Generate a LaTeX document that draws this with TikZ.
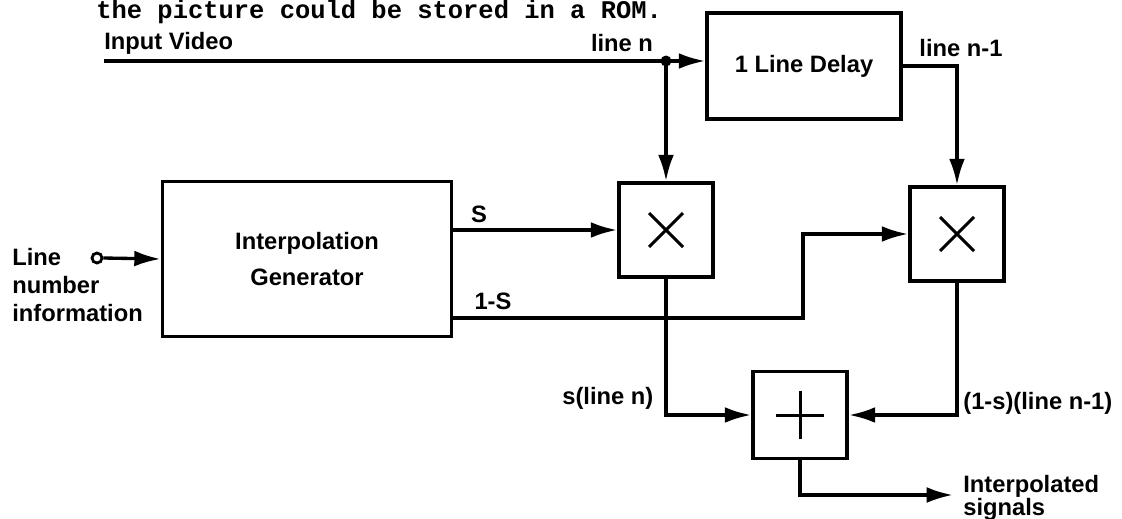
\documentclass[tikz,border=0pt]{standalone}
\usepackage{fontspec}
\setmainfont{Liberation Sans}
\newfontfamily\capfont{Liberation Mono}
\usetikzlibrary{arrows.meta, positioning, calc}

\begin{document}
\begin{tikzpicture}[
      x=0.02cm, y=-0.02cm,
      every node/.style={font=\fontsize{13.5}{16}\selectfont\bfseries},
      box/.style={rectangle, draw, line width=2.1pt, inner sep=0pt},
      mulbox/.style={box, minimum width=1.88cm, minimum height=1.88cm,
        path picture={\draw[line width=1.7pt]
          ([shift={(-0.34cm,-0.34cm)}]path picture bounding box.center) -- ([shift={(0.34cm,0.34cm)}]path picture bounding box.center)
          ([shift={(-0.34cm,0.34cm)}]path picture bounding box.center) -- ([shift={(0.34cm,-0.34cm)}]path picture bounding box.center);}},
      addbox/.style={box, minimum width=1.88cm, minimum height=1.74cm,
        path picture={\draw[line width=1.7pt]
          ([xshift=-0.48cm]path picture bounding box.center) -- ([xshift=0.48cm]path picture bounding box.center)
          ([yshift=-0.48cm]path picture bounding box.center) -- ([yshift=0.48cm]path picture bounding box.center);}},
      lbl/.style={inner sep=0pt},
      arrow/.style={-{Latex[length=15pt, width=9pt]}, line width=1.9pt}
    ]
      \useasboundingbox (0,0) rectangle (1122,518);
      \clip (0,0) rectangle (1122,518);

      % caption line at the top of the page
      \node[anchor=base west, inner sep=0pt, font=\capfont\bfseries\fontsize{14.5}{16}\selectfont] (cap) at (96,18) {the picture could be stored in a ROM.};

      % blocks
      \node[box, minimum width=3.88cm, minimum height=2.12cm] (delay) at (804,66) {1 Line Delay};
      \node[box, minimum width=5.78cm, minimum height=3.1cm, align=center] (ig) at (307,259) {Interpolation\\[4pt]Generator};
      \node[mulbox] (m1) at (666,230) {};
      \node[mulbox] (m2) at (957,234) {};
      \node[addbox] (add) at (800,415) {};

      % free ends and corners
      \coordinate (vin) at (104,61);
      \coordinate (jn) at (666,61);
      \coordinate (k1) at (803,318);
      \coordinate (vout) at (953,495);
      \node[circle, draw, line width=1.6pt, inner sep=0pt, minimum size=0.2cm] (lin) at (97,258) {};

      % labels
      \node[lbl, anchor=west] (tvin) at (104,43) {Input Video};
      \node[lbl] (tln) at (622,43) {line n};
      \node[lbl] (tln1) at (961,48) {line n-1};
      \node[lbl] (ts) at (479,214) {S};
      \node[lbl] (t1s) at (493,301) {1-S};
      \node[lbl, anchor=west] (tsl) at (562,398) {s(line n)};
      \node[lbl, anchor=west] (t1sl) at (963,403) {(1-s)(line n-1)};
      \node[lbl, anchor=west, align=left] (tlin) at (12,285) {Line\\number\\information};
      \node[lbl, anchor=west, align=left] (tout) at (963,498) {Interpolated\\[-3pt]signals};

      % connectors
      \draw[arrow] (vin) -- (jn -| delay.west);
      \fill (jn) circle (5.5);
      \draw[arrow] (jn) -- (m1.north);
      \draw[arrow] (delay.east) -| (m2.north);
      \draw[arrow] (lin.east) -- (ig.west);
      \draw[arrow] (ig.east |- m1.west) -- (m1.west);
      \draw[arrow] (ig.east |- k1) -- (k1) |- (m2.west);
      \draw[arrow] (m1.south) |- (add.west);
      \draw[arrow] (m2.south) |- (add.east);
      \draw[arrow] (add.south) |- (vout);
    \end{tikzpicture}
\end{document}
